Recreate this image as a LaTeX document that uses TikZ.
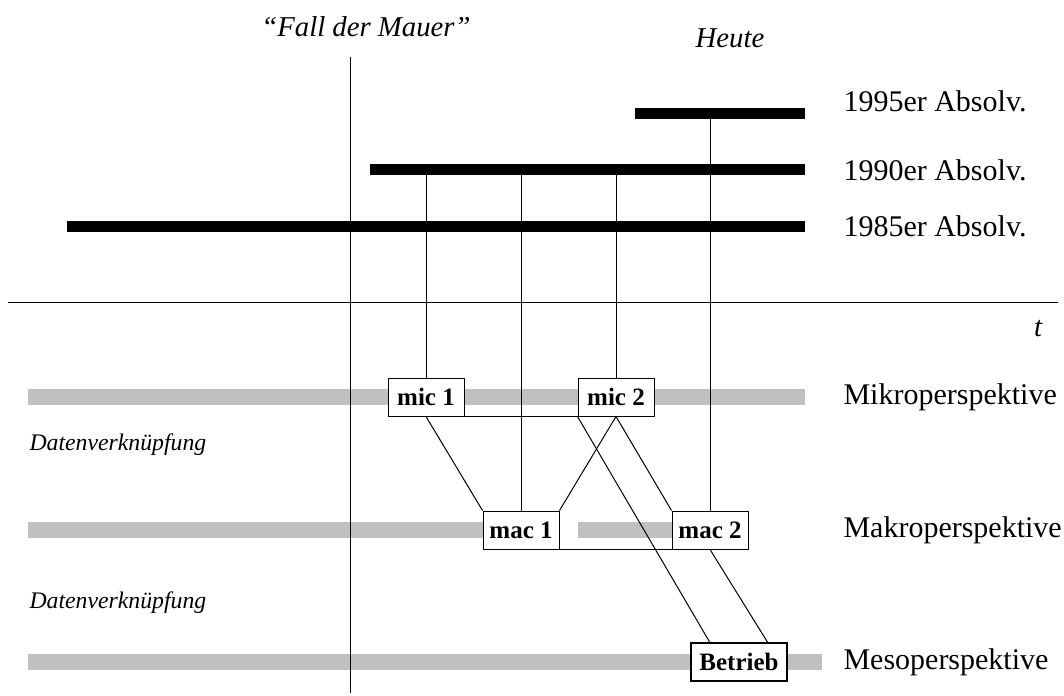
\documentclass[tikz,border=0pt]{standalone}
\usepackage{fontspec}
\setmainfont{Liberation Serif}
\usetikzlibrary{calc}
\definecolor{balken}{RGB}{192,192,192}
\tikzset{
  box/.style={draw, fill=white, line width=0.4pt, inner sep=0pt,
    minimum width=30.4pt, minimum height=15.2pt,
    font=\fontsize{10}{12}\selectfont\bfseries},
  absolv/.style={line width=4.4pt},
  ebene/.style={balken, line width=6.4pt},
  lbl/.style={anchor=west, inner sep=0pt, font=\fontsize{12}{14}\selectfont},
  daten/.style={anchor=west, inner sep=0pt, font=\fontsize{9.5}{11}\selectfont\itshape},
  zeit/.style={font=\fontsize{11.5}{14}\selectfont\itshape}
}

\begin{document}
\begin{tikzpicture}[x=0.4pt,y=-0.4pt,line width=0.4pt]
\useasboundingbox (0,0) rectangle (1064,695);
% Zeitachse
\coordinate (T1) at (8,302);
\coordinate (T2) at (1058,302);
\draw (T1)--(T2);
\node[zeit] (t) at (1038,329) {t};
% graue Ebenen
\draw[ebene] (28,397)--(805,397);
\draw[ebene] (28,530)--(483,530);
\draw[ebene] (578,530)--(672,530);
\draw[ebene] (28,662)--(822,662);
% Mauerfall
\coordinate (M1) at (350,57);
\coordinate (M2) at (350,693);
\draw (M1)--(M2);
\node[zeit] (mauer) at (366,27) {“Fall der Mauer”};
\node[zeit] (heute) at (730,38) {Heute};
% Absolventen
\coordinate (A95) at (635,113);
\coordinate (E95) at (805,113);
\coordinate (A90) at (370,169);
\coordinate (E90) at (805,169);
\coordinate (A85) at (67,226);
\coordinate (E85) at (805,226);
\draw[absolv] (A95)--(E95);
\draw[absolv] (A90)--(E90);
\draw[absolv] (A85)--(E85);
\node[lbl] (l95) at (843,101) {1995er Absolv.};
\node[lbl] (l90) at (843,170) {1990er Absolv.};
\node[lbl] (l85) at (843,226) {1985er Absolv.};
% Perspektiven
\node[lbl] (mikro) at (843,397) {Mikroperspektive};
\node[lbl] (makro) at (843,530) {Makroperspektive};
\node[lbl] (meso) at (843,662) {Mesoperspektive};
\node[daten] (dv1) at (29,445) {Datenverknüpfung};
\node[daten] (dv2) at (29,603) {Datenverknüpfung};
% Boxen
\node[box] (mic1) at (426,397) {mic 1};
\node[box] (mic2) at (616,397) {mic 2};
\node[box] (mac1) at (521,530) {mac 1};
\node[box] (mac2) at (710,530) {mac 2};
\node[box, line width=0.8pt, minimum width=38.4pt] (betrieb) at (739,662) {Betrieb};
% Verbindungen
\draw (mic1.north)--(mic1.north |- E90);
\draw (mac1.north)--(mac1.north |- E90);
\draw (mic2.north)--(mic2.north |- E90);
\draw (mac2.north)--(mac2.north |- E95);
\draw (mic1.south east)--(mic2.south west);
\draw (mac1.south east)--(mac2.south west);
\draw (mic1.south)--(mac1.north west);
\draw (mic2.south)--(mac1.north east);
\draw (mic2.south)--(mac2.north west);
\draw (mic2.south west)--($(betrieb.north west)!0.2!(betrieb.north east)$);
\draw (mac2.south)--($(betrieb.north west)!0.79!(betrieb.north east)$);

\end{tikzpicture}
\end{document}
